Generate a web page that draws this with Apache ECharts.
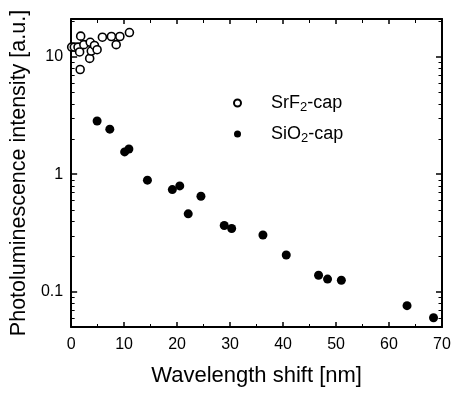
<!DOCTYPE html>
<html><head><meta charset="utf-8">
<script src="https://cdn.jsdelivr.net/npm/echarts@6/dist/echarts.min.js"></script>
<style>html,body{margin:0;padding:0;background:#fff}#c{width:454px;height:393px}</style>
</head><body><div id="c"></div>
<script>
const srf2X = [0.1, 0.6, 1.3, 1.6, 1.7, 1.8, 2.4, 3.5, 3.6, 3.8, 4.4, 4.9, 5.9, 7.6, 8.5, 9.2, 11.0];
const srf2Y = [12.1, 12.1, 12.1, 11.0, 7.8, 15.0, 12.7, 9.7, 13.3, 11.2, 12.5, 11.5, 14.7, 14.9, 12.7, 14.9, 16.1];
const sio2X = [4.9, 7.3, 10.1, 10.9, 14.4, 19.1, 20.5, 22.1, 24.5, 28.9, 30.3, 36.2, 40.6, 46.7, 48.4, 51.0, 63.4, 68.4];
const sio2Y = [2.84, 2.42, 1.55, 1.64, 0.89, 0.74, 0.795, 0.46, 0.65, 0.366, 0.345, 0.304, 0.205, 0.138, 0.128, 0.125, 0.076, 0.060];
const yMinorTicks = [0.06,0.07,0.08,0.09,0.2,0.3,0.4,0.5,0.6,0.7,0.8,0.9,2,3,4,5,6,7,8,9,20];
const xLabel = 'Wavelength shift [nm]';
const yLabel = 'Photoluminescence intensity [a.u.]';

const zip = (a,b) => a.map((v,i)=>[v,b[i]]);
const font = 'Liberation Sans, Arial, sans-serif';
const chart = echarts.init(document.getElementById('c'));
const axisLine = {show:true, onZero:false, lineStyle:{color:'#000', width:2}};
chart.setOption({
  animation:false,
  grid:{left:69, right:12, top:19, bottom:66},
  legend:{
    left:228, top:89, orient:'vertical', itemGap:11, itemWidth:7, itemHeight:7,
    textStyle:{fontFamily:font, fontSize:18, color:'#000',
      rich:{p:{fontFamily:font,fontSize:18,color:'#000',padding:[0,0,0,25]}, a:{fontFamily:font,fontSize:18,color:'#000'}, s:{fontFamily:font,fontSize:13,color:'#000',verticalAlign:'bottom',padding:[9,0,0,0]}}},
    formatter: n => n==='SrF2-cap' ? '{p|SrF}{s|2}{a|-cap}' : '{p|SiO}{s|2}{a|-cap}',
    data:['SrF2-cap','SiO2-cap']
  },
  xAxis:[{
    type:'value', min:0, max:70, interval:10, position:'bottom',
    name:xLabel, nameLocation:'middle', nameGap:38,
    nameTextStyle:{fontFamily:font, fontSize:22, color:'#000'},
    axisLine, splitLine:{show:false},
    axisTick:{inside:true, length:5, lineStyle:{color:'#000',width:1.5}},
    minorTick:{show:true, splitNumber:2, length:3, lineStyle:{color:'#000'}},
    axisLabel:{fontFamily:font, fontSize:16, color:'#000', margin:10}
  },{
    type:'value', min:0, max:70, interval:10, position:'top',
    axisLine, splitLine:{show:false},
    axisTick:{inside:true, length:5, lineStyle:{color:'#000',width:1.5}},
    minorTick:{show:true, splitNumber:2, length:4, lineStyle:{color:'#000'}},
    axisLabel:{show:false}
  }],
  yAxis:[{
    type:'log', logBase:10, min:0.05, max:21, position:'left',
    name:yLabel, nameLocation:'middle', nameGap:38,
    nameTextStyle:{fontFamily:font, fontSize:21.5, color:'#000'},
    axisLine, splitLine:{show:false},
    axisTick:{inside:true, length:6, lineStyle:{color:'#000',width:1.5}},
    axisLabel:{fontFamily:font, fontSize:16, color:'#000', margin:8, showMinLabel:false, showMaxLabel:false,
      formatter: v => (Math.abs(Math.log10(v) - Math.round(Math.log10(v)))<1e-6) ? String(+v.toPrecision(3)) : ''}
  },{
    type:'log', logBase:10, min:0.05, max:21, position:'right',
    axisLine, splitLine:{show:false},
    axisTick:{inside:true, length:6, lineStyle:{color:'#000',width:1.5}},
    axisLabel:{show:false}
  }],
  series:[
    {name:'SrF2-cap', type:'scatter', data:zip(srf2X,srf2Y), symbol:'circle', symbolSize:8,
      itemStyle:{color:'#fff', borderColor:'#000', borderWidth:1.6, opacity:1}, z:3},
    {name:'SiO2-cap', type:'scatter', data:zip(sio2X,sio2Y), symbol:'circle', symbolSize:9,
      itemStyle:{color:'#000', opacity:1}, z:3},
    {type:'custom', silent:true, clip:false, z:2,
      data: yMinorTicks.map(v=>[0,v]),
      encode:{x:0,y:1},
      renderItem:(params, api) => {
        const cs = params.coordSys;
        const p = api.coord([0, api.value(1)]);
        const y = Math.round(p[1]) + 0.5;
        return {type:'group', children:[
          {type:'line', shape:{x1:cs.x, y1:y, x2:cs.x+3.5, y2:y}, style:{stroke:'#000', lineWidth:1}},
          {type:'line', shape:{x1:cs.x+cs.width-3.5, y1:y, x2:cs.x+cs.width, y2:y}, style:{stroke:'#000', lineWidth:1}}
        ]};
      }}
  ]
});
</script></body></html>
